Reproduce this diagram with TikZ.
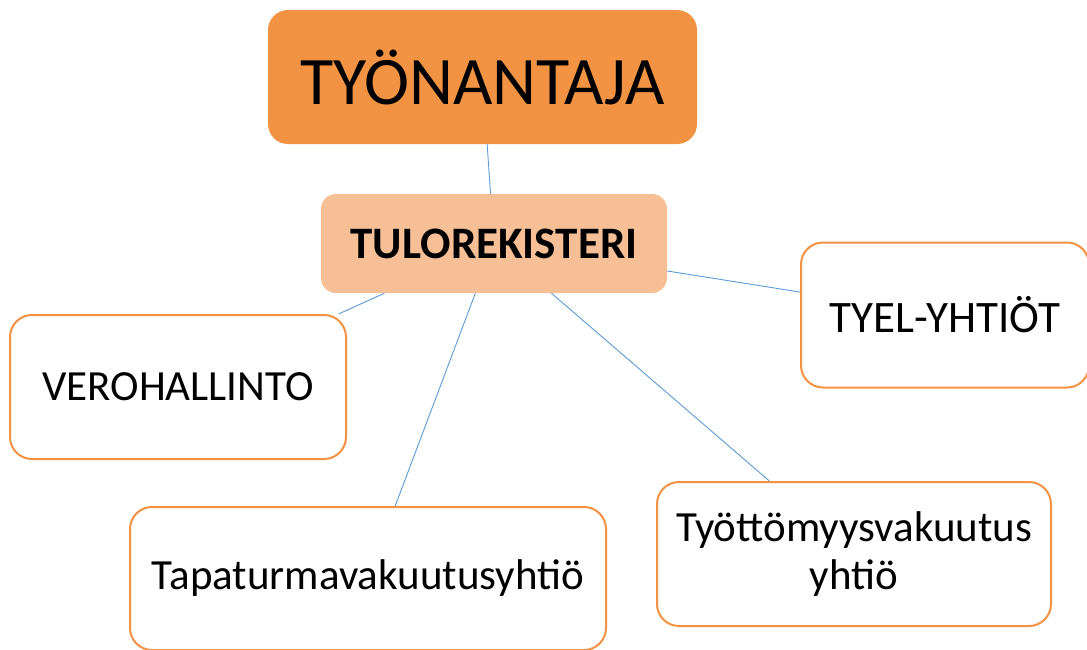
\documentclass[tikz,border=0pt]{standalone}
\usepackage{fontspec}
\setmainfont{Carlito}
\usepackage{tikz}
\definecolor{tyorange}{RGB}{241,147,66}
\definecolor{tylight}{RGB}{247,191,150}
\definecolor{tyborder}{RGB}{243,146,67}
\definecolor{tyline}{RGB}{91,155,213}

\begin{document}
\begin{tikzpicture}[x=1pt,y=-1pt,
  mainbox/.style={fill=tyorange,rounded corners=20pt,inner sep=0pt,align=center},
  regbox/.style={fill=tylight,rounded corners=15pt,inner sep=0pt,align=center},
  orgbox/.style={draw=tyborder,line width=2pt,fill=white,rounded corners=22pt,inner sep=0pt,align=center,font=\fontsize{43}{48}\selectfont},
  link/.style={draw=tyline,line width=0.9pt}]
\useasboundingbox (0,0) rectangle (1087,649);
% keskellä tulorekisteri
\node[mainbox,minimum width=429pt,minimum height=134pt,font=\fontsize{68}{70}\selectfont] (tyonantaja) at (482.5,77) {TYÖNANTAJA};
\node[regbox,minimum width=346pt,minimum height=99pt,font=\fontsize{45}{47}\selectfont\bfseries] (tulo) at (494,243.5) {TULOREKISTERI};
\node[orgbox,minimum width=336pt,minimum height=144pt] (vero) at (178,387) {VEROHALLINTO};
\node[orgbox,minimum width=288pt,minimum height=145pt,font=\fontsize{45}{48}\selectfont] (tyel) at (945,315) {TYEL-YHTIÖT};
\node[orgbox,minimum width=476pt,minimum height=143pt] (tapa) at (368,578.5) {Tapaturmavakuutusyhtiö};
\node[orgbox,minimum width=394pt,minimum height=144pt] (tyot) at (854,554) {Työttömyysvakuutus\\yhtiö};
% viivat
\draw[link] (tyonantaja) -- (tulo);
\draw[link] (tulo) -- (vero);
\draw[link] (tulo) -- (tyel);
\draw[link] (tulo) -- (tapa);
\draw[link] (tulo) -- (tyot);
\end{tikzpicture}
\end{document}
